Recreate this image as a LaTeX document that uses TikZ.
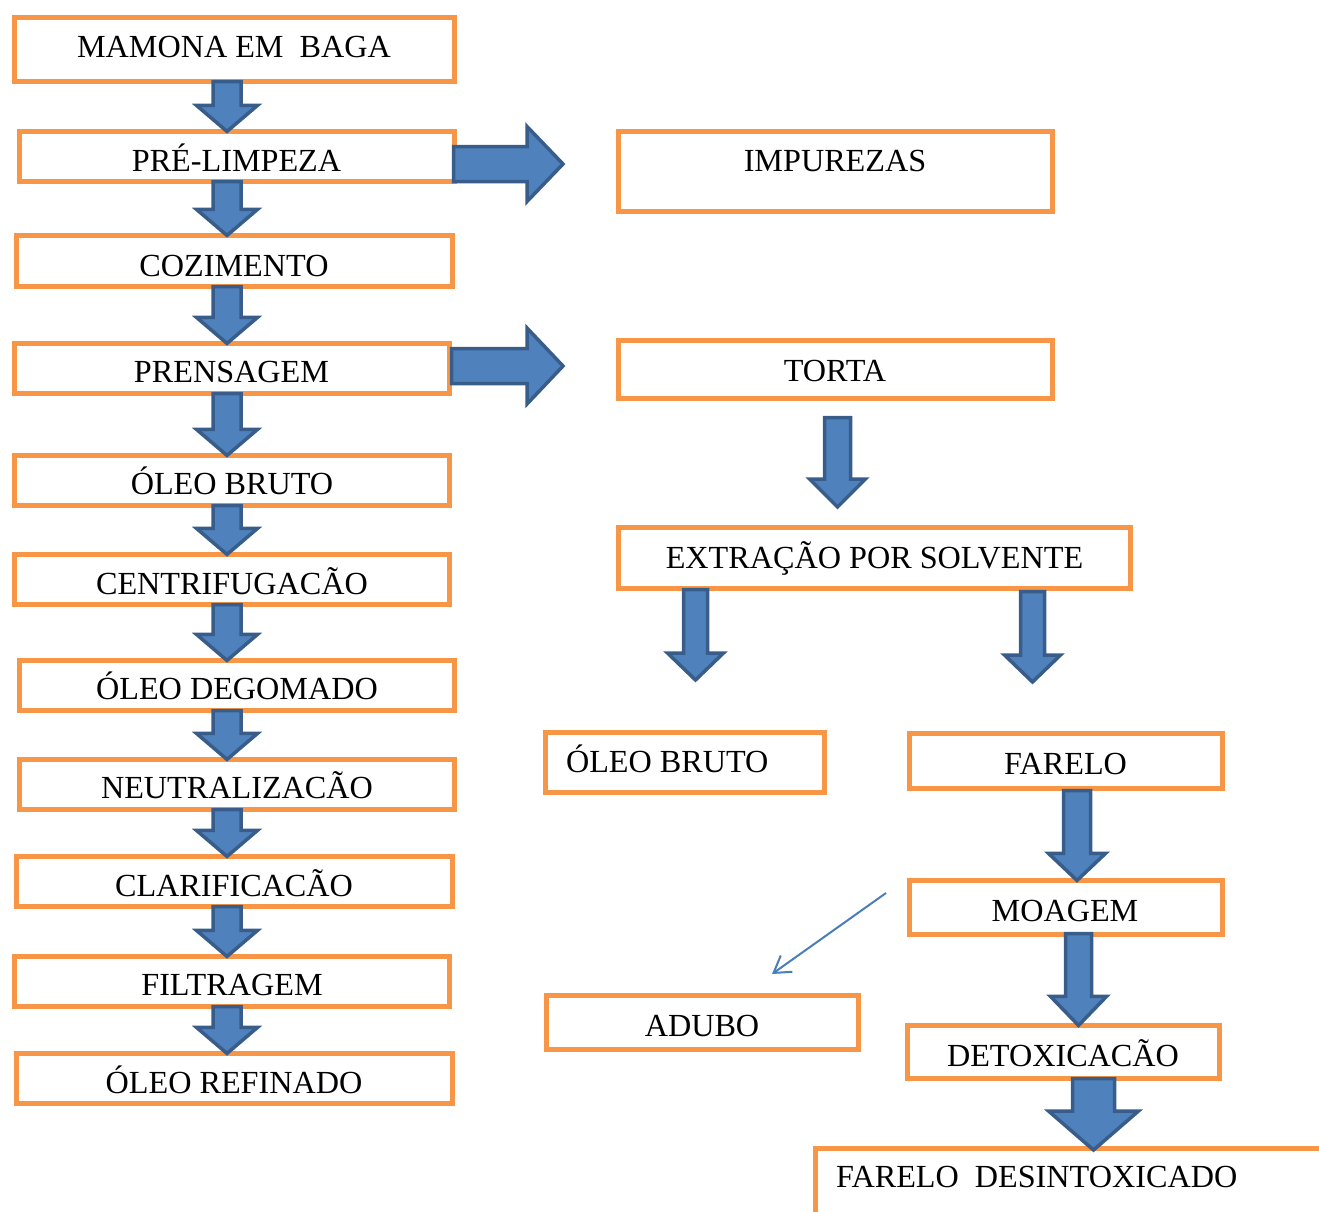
\documentclass[tikz,border=0pt]{standalone}
\usepackage{fontspec}
\setmainfont{Liberation Serif}
\usetikzlibrary{calc,arrows.meta}
\definecolor{boxorange}{HTML}{F79646}
\definecolor{arrfill}{HTML}{4F81BD}
\definecolor{arrdraw}{HTML}{385D8A}
\definecolor{thinblue}{HTML}{4A7EBB}
\tikzset{
  box/.style={draw=boxorange, line width=4.8pt, fill=white, rectangle, inner sep=0pt, outer sep=0pt},
  lbl/.style={font=\fontsize{32.2}{38}\selectfont, inner sep=0pt, outer sep=0pt, text height=21.3pt, text depth=0pt, anchor=center},
  barrow/.style={draw=arrdraw, fill=arrfill, line width=3.5pt, line join=miter},
  thinarrow/.style={draw=thinblue, line width=2pt, -{Straight Barb[length=16pt,width=20pt,line width=2pt]}},
}
% down block arrow: #1 from, #2 to (tip), #3 cx, #4 shaft hw, #5 head hw, #6 head length, #7 top offset
\newcommand\mydarrow[7]{%
  \draw[barrow] let \p1=(#1), \p2=(#2) in
    ({(#3-#4)*1pt},{\y1+(#7)*1pt}) -- ({(#3+#4)*1pt},{\y1+(#7)*1pt}) --
    ({(#3+#4)*1pt},{\y2+(#6)*1pt}) -- ({(#3+#5)*1pt},{\y2+(#6)*1pt}) --
    ({#3*1pt},{\y2}) -- ({(#3-#5)*1pt},{\y2+(#6)*1pt}) --
    ({(#3-#4)*1pt},{\y2+(#6)*1pt}) -- cycle;}
% right block arrow: #1 from, #2 to (tip), #3 cy, #4 shaft hw, #5 head hw, #6 head length, #7 start offset
\newcommand\myrarrow[7]{%
  \draw[barrow] let \p1=(#1), \p2=(#2) in
    ({\x1+(#7)*1pt},{-(#3-#4)*1pt}) -- ({\x2-(#6)*1pt},{-(#3-#4)*1pt}) --
    ({\x2-(#6)*1pt},{-(#3-#5)*1pt}) -- ({\x2},{-#3*1pt}) --
    ({\x2-(#6)*1pt},{-(#3+#5)*1pt}) -- ({\x2-(#6)*1pt},{-(#3+#4)*1pt}) --
    ({\x1+(#7)*1pt},{-(#3+#4)*1pt}) -- cycle;}
\begin{document}
\begin{tikzpicture}[x=1pt,y=-1pt]
\useasboundingbox (0,0) rectangle (1319,1211);
\clip (0,0) rectangle (1319,1211);
% left column boxes
\node[box, minimum width=440.2pt, minimum height=64.2pt] (m1) at (234.5,49.5) {};
\node[box, minimum width=435.2pt, minimum height=50.2pt] (m2) at (237,156.5) {};
\node[box, minimum width=436.2pt, minimum height=51.2pt] (m3) at (234.5,261) {};
\node[box, minimum width=435.2pt, minimum height=50.2pt] (m4) at (232,368.5) {};
\node[box, minimum width=435.2pt, minimum height=50.2pt] (m5) at (232,480.5) {};
\node[box, minimum width=435.2pt, minimum height=50.2pt] (m6) at (232,579.5) {};
\node[box, minimum width=435.2pt, minimum height=50.2pt] (m7) at (237,685.5) {};
\node[box, minimum width=435.2pt, minimum height=50.2pt] (m8) at (237,784.5) {};
\node[box, minimum width=436.2pt, minimum height=50.2pt] (m9) at (234.5,881.5) {};
\node[box, minimum width=435.2pt, minimum height=50.2pt] (m10) at (232,981.5) {};
\node[box, minimum width=436.2pt, minimum height=50.2pt] (m11) at (234.5,1078.5) {};
% right boxes
\node[box, minimum width=434.2pt, minimum height=80.2pt] (r1) at (835.5,171.5) {};
\node[box, minimum width=434.2pt, minimum height=58.2pt] (r2) at (835.5,369.5) {};
\node[box, minimum width=512.2pt, minimum height=61.2pt] (r3) at (874.5,558) {};
\node[box, minimum width=279.2pt, minimum height=60.2pt] (r4) at (685,762.5) {};
\node[box, minimum width=313.2pt, minimum height=55.2pt] (r5) at (1066,761) {};
\node[box, minimum width=313.2pt, minimum height=54.2pt] (r6) at (1066,907.5) {};
\node[box, minimum width=312.2pt, minimum height=54.2pt] (r7) at (702.5,1022.5) {};
\node[box, minimum width=312.2pt, minimum height=53.2pt] (r8) at (1063.5,1052) {};
\node[box, minimum width=545pt, minimum height=112pt] (r9) at (1087.75,1204.25) {};
% labels
\node[lbl] (t1) at (234,46.5) {MAMONA EM\ \ BAGA};
\node[lbl] (t2) at (236.5,160.5) {PRÉ-LIMPEZA};
\node[lbl] (t3) at (234,265.5) {COZIMENTO};
\node[lbl] (t4) at (231.5,372) {PRENSAGEM};
\node[lbl] (t5) at (232,484) {ÓLEO BRUTO};
\node[lbl] (t6) at (232,583.5) {CENTRIFUGACÃO};
\node[lbl] (t7) at (237,689) {ÓLEO DEGOMADO};
\node[lbl] (t8) at (237,788) {NEUTRALIZACÃO};
\node[lbl] (t9) at (234,885.5) {CLARIFICACÃO};
\node[lbl] (t10) at (232,985) {FILTRAGEM};
\node[lbl] (t11) at (234,1082.5) {ÓLEO REFINADO};
\node[lbl] (u1) at (835,161) {IMPUREZAS};
\node[lbl] (u2) at (835,370.5) {TORTA};
\node[lbl] (u3) at (874.5,557.5) {EXTRAÇÃO POR SOLVENTE};
\node[lbl, anchor=west] (u4) at (566,762) {ÓLEO BRUTO};
\node[lbl] (u5) at (1065.5,763.5) {FARELO};
\node[lbl] (u6) at (1065,910.5) {MOAGEM};
\node[lbl] (u7) at (702,1025.5) {ADUBO};
\node[lbl] (u8) at (1063,1055.5) {DETOXICACÃO};
\node[lbl, anchor=west] (u9) at (836,1177) {FARELO\ \ DESINTOXICADO};
% left column block arrows
\mydarrow{m1.south}{m2.north}{227}{14}{30.5}{26}{0}
\mydarrow{m2.south}{m3.north}{227}{14}{30.5}{26}{0}
\mydarrow{m3.south}{m4.north}{227}{14}{30.5}{26}{0}
\mydarrow{m4.south}{m5.north}{227}{14}{30.5}{26}{0}
\mydarrow{m5.south}{m6.north}{227}{14}{30.5}{26}{0}
\mydarrow{m6.south}{m7.north}{227}{14}{30.5}{26}{0}
\mydarrow{m7.south}{m8.north}{227}{14}{30.5}{26}{0}
\mydarrow{m8.south}{m9.north}{227}{14}{30.5}{26}{0}
\mydarrow{m9.south}{m10.north}{227}{14}{30.5}{26}{0}
\mydarrow{m10.south}{m11.north}{227}{14}{30.5}{26}{0}
% tip coordinates
\coordinate (h1) at (563,164);
\coordinate (h2) at (563,366);
\coordinate (tA) at (837.5,507);
\coordinate (tB) at (695.5,680);
\coordinate (tC) at (1032.5,682);
\coordinate (tD) at (1093.5,1150);
% horizontal block arrows
\myrarrow{m2.east}{h1}{164}{17.5}{37.5}{36}{-1}
\myrarrow{m4.east}{h2}{366}{17.5}{38}{36}{2}
% right column block arrows
\mydarrow{r2.south}{tA}{837.5}{13}{28}{28}{-19}
\mydarrow{r3.south}{tB}{695.5}{12}{28}{27}{-1}
\mydarrow{r3.south}{tC}{1032.5}{12}{28}{27}{-3}
\mydarrow{r5.south}{r6.north}{1077}{13.5}{28.5}{27}{-2}
\mydarrow{r6.south}{r8.north}{1078.5}{13}{28}{29}{1}
\mydarrow{r8.south}{tD}{1093.5}{21}{45}{39}{0}
% thin arrow
\coordinate (sa) at (886,893);
\coordinate (sb) at (772,974);
\draw[thinarrow] (sa) -- (sb);
\end{tikzpicture}
\end{document}
